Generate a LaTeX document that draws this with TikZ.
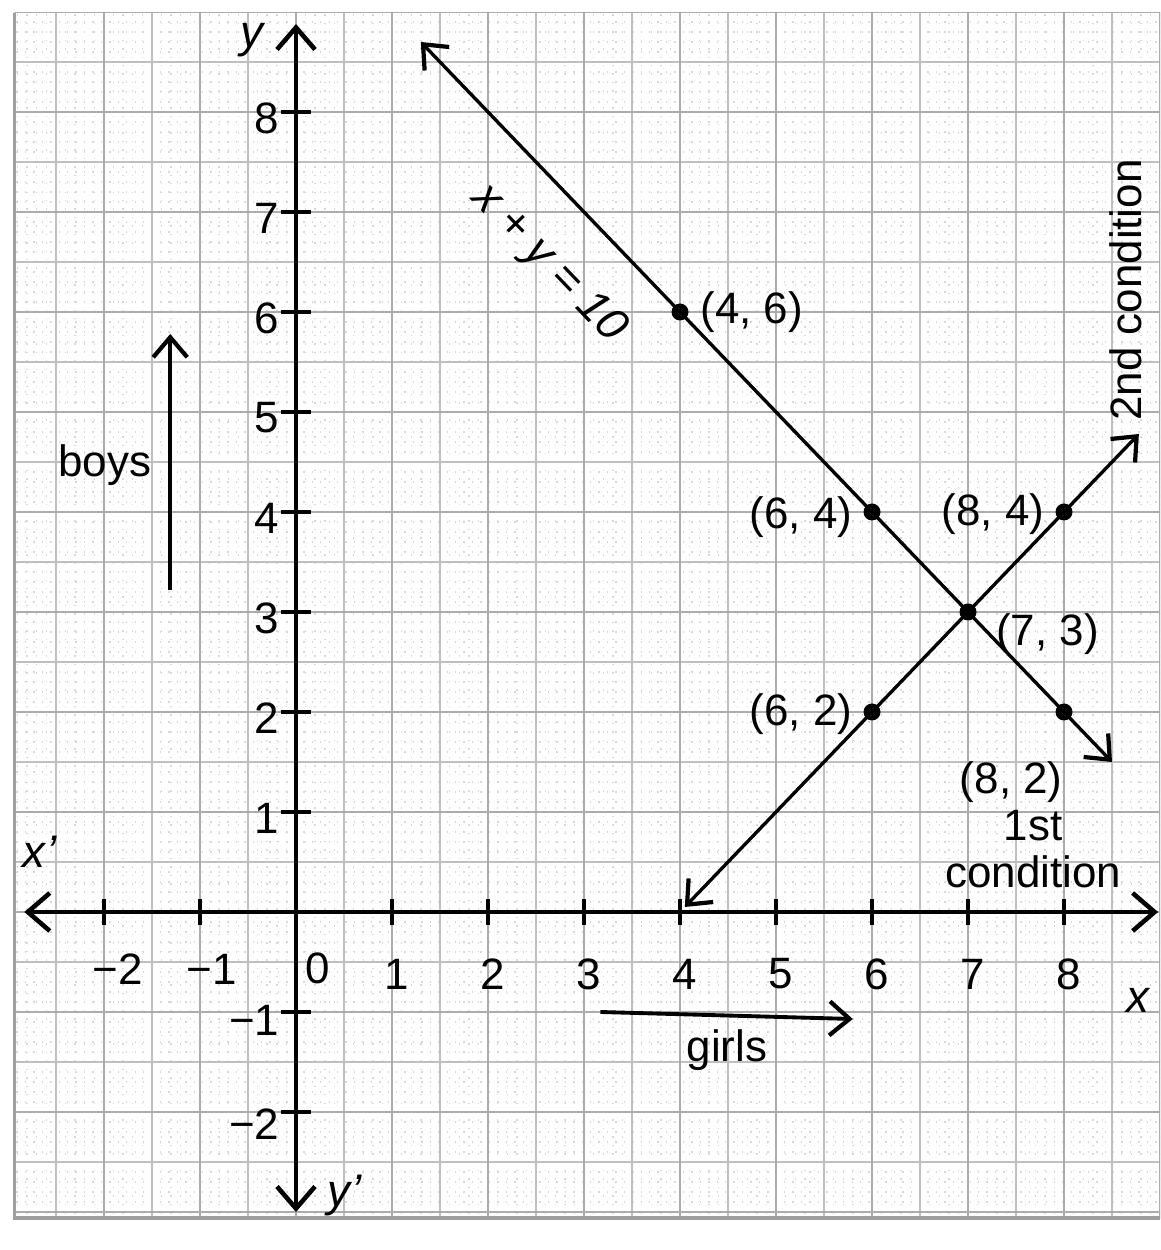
\documentclass[tikz,border=0pt]{standalone}
\usepackage{fontspec}
\setmainfont{Liberation Sans}
\usetikzlibrary{arrows.meta}
\begin{document}
\begin{tikzpicture}[x=0.96cm,y=1cm,
  lbl/.style={font=\fontsize{12.5}{13.5}\selectfont, inner sep=1pt},
  ilbl/.style={font=\fontsize{13}{14}\selectfont\itshape, inner sep=1pt},
  axisline/.style={line width=1.3pt, {Straight Barb[length=2.2mm,width=3.8mm]}-{Straight Barb[length=2.2mm,width=3.8mm]}},
  graphline/.style={line width=0.95pt, {Straight Barb[length=2mm,width=3.4mm,line width=1.2pt]}-{Straight Barb[length=2mm,width=3.4mm,line width=1.2pt]}},
  onearrow/.style={line width=1.1pt, -{Straight Barb[length=2mm,width=3.4mm,line width=1.2pt]}},
  tickmark/.style={line width=1.1pt},
  pt/.style={circle, fill=black, inner sep=0pt, minimum size=1.7mm}]
\useasboundingbox (-3.0833,-3.38) rectangle (9.0,9.12);
\fill[white] (-3.0833,-3.38) rectangle (9.0,9.12);
% graph paper
\begin{scope}
  \clip (-2.93,-3.06) rectangle (9.0,8.99);
  \draw[gray!30, dotted, line width=0.4pt, step=0.1] (-3,-3.1) grid (9.1,9.1);
  \draw[gray!50, line width=0.35pt, step=0.5] (-3,-3.1) grid (9.1,9.1);
  \draw[gray!65, line width=0.45pt, step=1] (-3,-3.1) grid (9.1,9.1);
\end{scope}
\draw[gray!75, line width=0.9pt] (-2.93,8.99) -- (-2.93,-3.06) -- (9.0,-3.06);
% axes
\coordinate (xl) at (-2.83,0);
\coordinate (xr) at (8.98,0);
\coordinate (yt) at (0,8.88);
\coordinate (yb) at (0,-3.0);
\draw[axisline] (xl) -- (xr);
\draw[axisline] (yt) -- (yb);
\foreach \i in {-2,-1,1,2,3,4,5,6,7,8} {
  \draw[tickmark] (\i,-0.13) -- (\i,0.13);
}
\foreach \j in {-2,-1,1,2,3,4,5,6,7,8} {
  \draw[tickmark] (-0.16,\j) -- (0.16,\j);
}
% axis numbers
\foreach \i in {1,2,3,4,5,6,7,8} {
  \node[lbl] (xn\i) at (\i+0.05,-0.62) {\i};
}
\node[lbl] (xnm2) at (-1.86,-0.57) {\textminus 2};
\node[lbl] (xnm1) at (-0.88,-0.57) {\textminus 1};
\node[lbl] (xn0) at (0.23,-0.56) {0};
\foreach \j in {1,2,3,4,5,6,7,8} {
  \node[lbl, anchor=east] (yn\j) at (-0.13,\j-0.06) {\j};
}
\node[lbl, anchor=east] (ynm1) at (-0.13,-1.08) {\textminus 1};
\node[lbl, anchor=east] (ynm2) at (-0.13,-2.12) {\textminus 2};
% axis names
\node[ilbl] (xname) at (8.77,-0.88) {x};
\node[ilbl] (xpname) at (-2.67,0.6) {x\kern0.3pt'};
\node[ilbl] (yname) at (-0.46,8.72) {y};
\node[ilbl] (ypname) at (0.51,-2.84) {y\kern0.3pt'};
% line x + y = 10
\coordinate (a1) at (1.3,8.7);
\coordinate (a2) at (8.5,1.5);
\draw[graphline] (a1) -- (a2);
\node[ilbl, rotate=-46.2] (eq) at (2.63,6.48) {x + y = 10};
% line y = x - 4
\coordinate (b1) at (4.05,0.05);
\coordinate (b2) at (8.78,4.78);
\draw[graphline] (b1) -- (b2);
% points
\node[pt] (p46) at (4,6) {};
\node[pt] (p64) at (6,4) {};
\node[pt] (p73) at (7,3) {};
\node[pt] (p82) at (8,2) {};
\node[pt] (p62) at (6,2) {};
\node[pt] (p84) at (8,4) {};
\node[lbl, anchor=west] (l46) at (4.17,6.0) {(4, 6)};
\node[lbl, anchor=east] (l64) at (5.84,3.95) {(6, 4)};
\node[lbl, anchor=east] (l84) at (7.84,3.98) {(8, 4)};
\node[lbl, anchor=west] (l73) at (7.25,2.78) {(7, 3)};
\node[lbl, anchor=east] (l62) at (5.84,1.98) {(6, 2)};
\node[lbl] (l82) at (7.45,1.3) {(8, 2)};
\node[lbl, align=center] (c1) at (7.68,0.63) {1st\\condition};
\node[lbl, rotate=90] (c2) at (8.64,6.22) {2nd condition};
% boys / girls
\node[lbl] (boys) at (-1.99,4.47) {boys};
\coordinate (ba) at (-1.31,3.22);
\coordinate (bb) at (-1.31,5.78);
\draw[onearrow] (ba) -- (bb);
\node[lbl] (girls) at (4.49,-1.38) {girls};
\coordinate (ga) at (3.17,-1.0);
\coordinate (gb) at (5.8,-1.07);
\draw[onearrow] (ga) -- (gb);
\end{tikzpicture}
\end{document}
